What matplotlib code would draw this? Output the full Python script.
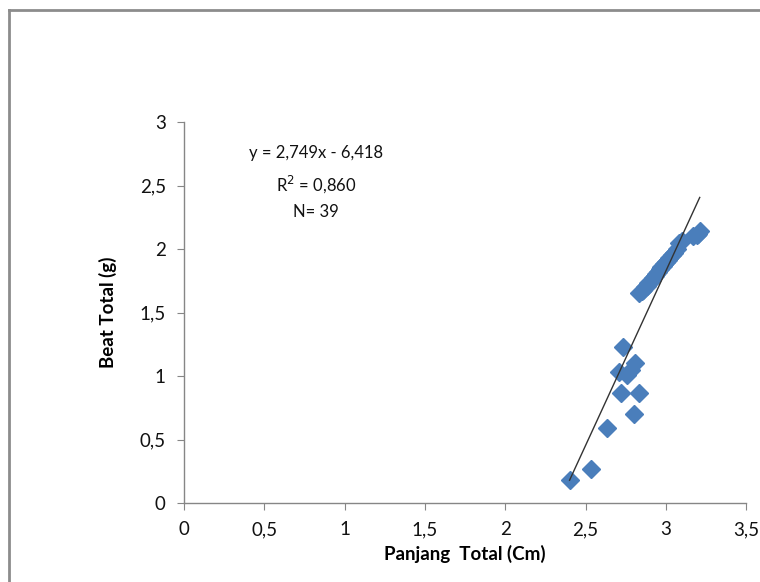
import matplotlib
matplotlib.use("Agg")
import matplotlib.pyplot as plt
import numpy as np
from matplotlib.lines import Line2D

# Data
panjang = [2.40, 2.535, 2.63, 2.80, 2.72, 2.83, 2.71, 2.73, 2.78, 2.81, 2.76,
           2.83, 2.85, 2.86, 2.87, 2.88, 2.89, 2.90, 2.91, 2.92, 2.93, 2.94,
           2.95, 2.96, 2.97, 2.98, 2.99, 3.00, 3.01, 3.02, 3.04, 3.05, 3.07,
           3.08, 3.10, 3.17, 3.19, 3.20, 3.21]
berat = [0.18, 0.27, 0.59, 0.70, 0.87, 0.87, 1.03, 1.23, 1.05, 1.10, 1.01,
         1.65, 1.67, 1.68, 1.70, 1.71, 1.73, 1.74, 1.76, 1.77, 1.79, 1.80,
         1.82, 1.84, 1.86, 1.87, 1.88, 1.90, 1.91, 1.93, 1.95, 1.97, 2.00,
         2.05, 2.06, 2.10, 2.11, 2.12, 2.14]
slope, intercept = 2.749, -6.418

x_ticks = [0, 0.5, 1, 1.5, 2, 2.5, 3, 3.5]
y_ticks = [0, 0.5, 1, 1.5, 2, 2.5, 3]

plt.rcParams['font.family'] = ['Lato', 'DejaVu Sans']

fig = plt.figure(figsize=(7.6, 5.82), dpi=100)
ax = fig.add_axes([0.242, 0.1357, 0.740, 0.6546])

# Frame around the chart area
border = '#8c8c8c'
fig.add_artist(Line2D([9 / 760, 1], [1 - 10 / 582, 1 - 10 / 582], color=border, lw=2))
fig.add_artist(Line2D([9 / 760, 9 / 760], [0, 1 - 10 / 582], color=border, lw=2))

ax.plot(panjang, berat, linestyle='none', marker='D', markersize=9.5,
        color='#4a7ebb', markeredgecolor='#4a7ebb', zorder=2)

xl = np.array([min(panjang), max(panjang)])
ax.plot(xl, slope * xl + intercept, color='#333333', lw=1, zorder=3)

ax.set_xlim(0, 3.5)
ax.set_ylim(0, 3)
ax.set_xticks(x_ticks)
ax.set_yticks(y_ticks)
fmt = lambda v: ('%g' % v).replace('.', ',')
ax.set_xticklabels([fmt(v) for v in x_ticks])
ax.set_yticklabels([fmt(v) for v in y_ticks])

for s in ['top', 'right']:
    ax.spines[s].set_visible(False)
for s in ['left', 'bottom']:
    ax.spines[s].set_color('#868686')
    ax.spines[s].set_linewidth(1)
ax.tick_params(axis='both', direction='out', length=5, color='#868686',
               labelsize=13.5, labelcolor='#111111', pad=8)

ax.set_xlabel('Panjang  Total (Cm)', fontsize=13.5, fontweight='bold', labelpad=5)
ax.set_ylabel('Beat Total (g)', fontsize=13.5, fontweight='bold', labelpad=16)

ax.text(0.235, 0.842, 'y = 2,749x - 6,418\nR$^2$ = 0,860\nN= 39',
        transform=ax.transAxes, ha='center', va='center', fontsize=12,
        linespacing=1.7, color='#111111')

fig.savefig('out.png', dpi=100)
